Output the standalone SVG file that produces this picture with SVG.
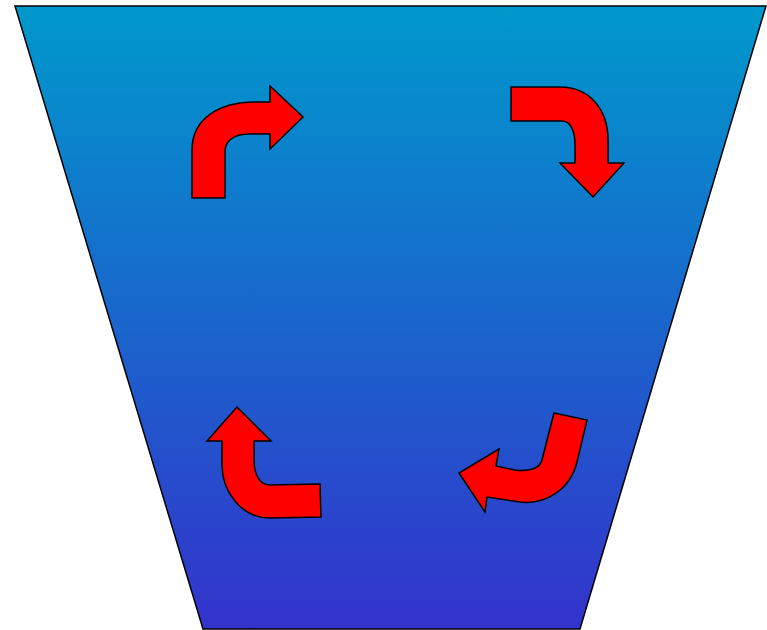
<svg xmlns="http://www.w3.org/2000/svg" width="767" height="630" viewBox="0 0 767 630">
<defs>
<linearGradient id="bg" x1="0" y1="0" x2="0" y2="1">
<stop offset="0" stop-color="#0099CC"/>
<stop offset="1" stop-color="#3333CC"/>
</linearGradient>
</defs>
<style>
.arrow{fill:#FF0000;stroke:#000;stroke-width:1.5;stroke-linejoin:miter}
</style>
<rect width="767" height="630" fill="#fff"/>
<g id="funnel">
<polygon points="15,6 766,6 580,629 203,629" fill="url(#bg)" stroke="#000" stroke-width="1.5"/>
</g>
<g id="arrows">
<path id="arrow-top-left" class="arrow" d="M192,198 L192,150 C192,118 220,102 255,102 L270,102 L270,86 L303,117 L270,149 L270,134 L250,134 C232,134 225,142 225,152 L225,198 Z"/>
<path id="arrow-top-right" class="arrow" d="M511,87 L560,87 C590,87 608,110 608,140 L608,163 L624,163 L593,197 L560,163 L575,163 L575,145 C575,130 570,121 562,121 L511,121 Z"/>
<path id="arrow-bottom-right" class="arrow" d="M554,413 L587,420 L577,462 C570,490 545,505 520,502 L487,497 L485,512 L459,473 L499,449 L496,466 L515,470 C530,472 540,468 542,460 Z"/>
<path id="arrow-bottom-left" class="arrow" d="M207,441 L237,407 L271,441 L254,441 L254,460 C254,475 260,485 270,485 L320,484 L321,517 L270,518 C240,518 222,490 222,465 L222,441 Z"/>
</g>
</svg>
